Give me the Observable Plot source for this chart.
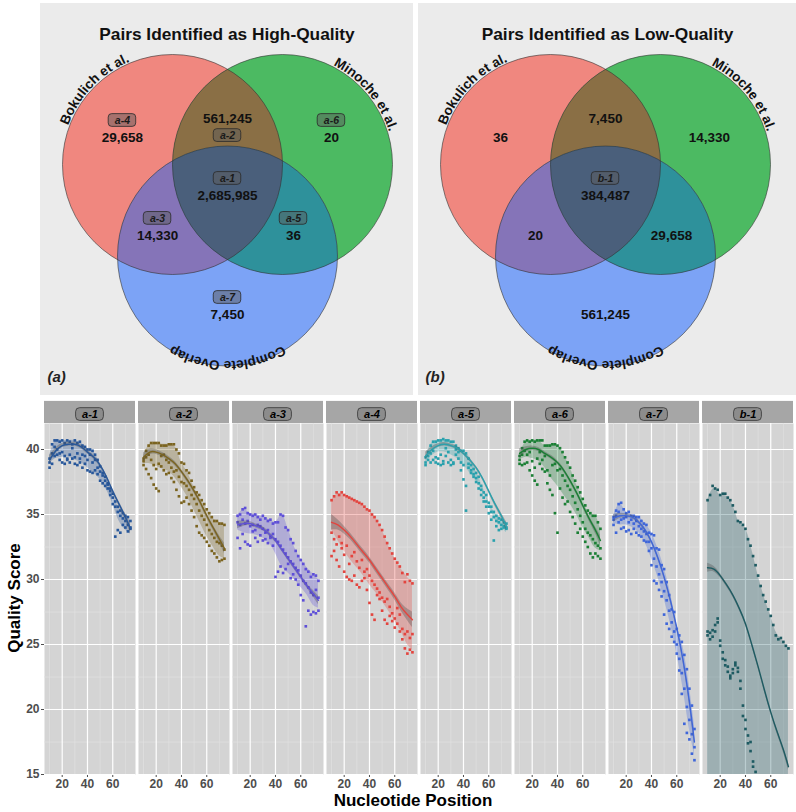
<!DOCTYPE html>
<html><head><meta charset="utf-8">
<script src="https://cdn.jsdelivr.net/npm/d3@7"></script>
<script src="https://cdn.jsdelivr.net/npm/@observablehq/plot@0.6"></script>
<style>
body{margin:0;background:#fff;}
#root{position:relative;width:796px;height:812px;background:#fff;font-family:"Liberation Sans",Arial,sans-serif;overflow:hidden}
.abs{position:absolute}
.axlab{position:absolute;font-weight:bold;font-size:17px;color:#000;white-space:nowrap}
</style></head><body>
<div id="root">
 <div id="vennA" class="abs" style="left:40px;top:3px;width:373px;height:392px"></div>
 <div id="vennB" class="abs" style="left:418px;top:3px;width:378px;height:392px"></div>
 <div id="facets" class="abs" style="left:0;top:400px;width:796px;height:412px"></div>
 <div class="axlab" style="left:15px;top:598px;transform:translate(-50%,-50%) rotate(-90deg)">Quality Score</div>
 <div class="axlab" style="left:413px;top:801px;transform:translate(-50%,-50%)">Nucleotide Position</div>
</div>
<script>
// ---------------- Venn data ----------------
const vennSets = ["Bokulich et al.", "Minoche et al.", "Complete Overlap"];
const vennRegions = ["Bokulich only", "Bokulich & Minoche", "Minoche only", "All three", "Bokulich & Overlap", "Minoche & Overlap", "Overlap only"];
const highCounts = [29658, 561245, 20, 2685985, 14330, 36, 7450];
const highTags = ["a-4", "a-2", "a-6", "a-1", "a-3", "a-5", "a-7"];
const lowCounts = [36, 7450, 14330, 384487, 20, 29658, 561245];
const lowTags = ["", "", "", "b-1", "", "", ""];

// Venn geometry (unit circles)
const vennCircles = [{cx: -0.5, cy: 0}, {cx: 0.5, cy: 0}, {cx: 0, cy: -0.832}];
const regionAnchors = [[-0.955, 0.245], [0, 0.418], [0.945, 0.245], [0, -0.282], [-0.636, -0.645], [0.6, -0.645], [0, -1.364]];
const tagAbove = [true, false, true, true, true, true, true];
const setLabelAngles = [224, 320, 90];
const setLabelOffsets = [1.5, 1.5, -5];
const onlyColors = ["#f0877f", "#4cba62", "#7ca3f6"];
const overlapColors = {rg: "#8a6f45", rb: "#8574b8", gb: "#2e919b", rgb: "#4a5f7b"};

// ---------------- Quality data ----------------
const panels = ["a-1", "a-2", "a-3", "a-4", "a-5", "a-6", "a-7", "b-1"];
const panelColors = ["#27579b", "#7b6420", "#5e4fd8", "#e3453f", "#2aa1ad", "#1b7f35", "#3f66d9", "#1e5b62"];
const positions = [10,12,14,16,18,20,22,24,26,28,30,32,34,36,38,40,42,44,46,48,50,52,54,56,58,60,62,64,66,68,70,72,74];
const fitPositions = [10,15,20,25,30,35,40,45,50,55,60,65,70,74];

const hiScores = {
  "a-1": [39.3,40.4,40.7,40.7,40.6,40.7,40.5,40.7,40.6,40.4,40.7,40.5,40.6,40.3,40.2,40.0,40.0,39.9,39.6,39.2,38.7,38.2,37.9,37.4,37.0,36.6,36.0,35.6,35.3,35.1,34.9,34.8,34.5],
  "a-2": [39.3,39.9,40.3,40.5,40.5,40.5,40.5,40.3,40.3,40.3,40.4,40.4,40.4,40.0,39.7,39.0,38.9,38.4,38.2,37.6,37.1,36.7,36.5,36.1,35.8,35.4,35.1,34.8,34.5,34.5,34.3,34.3,34.2],
  "a-3": [34.9,35.0,35.4,35.5,35.1,35.0,34.9,35.0,34.8,34.6,34.9,34.7,34.5,34.6,34.3,34.4,34.4,35.0,34.9,34.0,33.8,33.1,32.8,32.2,31.8,31.5,31.2,30.8,30.6,30.2,30.4,30.3,29.9],
  "a-4": [36.1,36.4,36.7,36.5,36.7,36.5,36.4,36.3,36.2,36.1,36.0,35.9,35.8,35.6,35.4,35.3,35.0,34.8,34.5,34.2,33.8,33.3,32.8,32.4,32.0,31.6,31.3,31.0,30.5,29.8,30.4,29.9,29.7],
  "a-5": [39.4,39.8,40.3,40.6,40.6,40.7,40.7,40.8,40.7,40.7,40.6,40.6,40.3,40.1,39.9,39.9,39.7,39.3,38.8,38.5,38.2,37.9,37.2,36.7,36.5,35.9,35.6,35.2,34.9,34.7,34.6,34.4,34.3],
  "a-6": [39.5,40.1,40.6,40.7,40.6,40.7,40.6,40.7,40.7,40.7,40.3,40.3,40.3,40.4,40.4,40.3,40.1,39.8,39.4,39.0,38.6,38.0,37.6,37.1,36.7,36.2,35.7,35.3,35.1,34.9,34.9,34.4,33.9],
  "a-7": [34.8,35.3,35.8,35.9,35.4,35.1,35.2,34.9,34.9,34.8,34.8,34.5,34.3,34.2,33.6,33.5,33.4,32.4,32.3,31.1,30.8,29.8,28.8,27.7,27.5,26.2,25.7,25.2,24.2,23.1,21.6,20.3,18.5],
  "b-1": [36.1,36.5,37.2,37.0,36.9,36.5,36.6,36.6,36.3,36.1,35.7,35.2,34.5,34.4,34.2,33.9,33.1,32.6,31.8,31.1,30.3,29.5,28.8,28.3,27.7,27.2,26.5,25.7,25.4,25.5,25.2,24.9,24.7]
};
const midScores = {
  "a-1": [39.0,39.7,40.2,40.0,39.7,39.8,39.5,39.2,39.6,40.1,39.4,39.7,39.3,39.6,39.5,39.2,39.6,39.0,39.2,38.6,38.3,38.0,37.6,37.3,36.8,36.3,35.6,35.2,34.9,34.7,34.5,34.2,34.0],
  "a-2": [39.1,39.4,39.6,39.2,38.8,38.5,38.9,39.5,39.6,39.2,39.0,38.6,38.3,38.4,37.9,37.5,37.4,37.2,36.9,36.5,36.2,35.8,35.3,34.9,34.6,34.2,33.8,33.5,33.2,32.9,32.8,32.6,32.3],
  "a-3": [34.4,34.2,34.6,34.3,34.5,34.1,34.2,33.8,34.2,34.1,33.9,33.6,33.8,33.3,33.5,33.1,32.9,32.6,32.3,32.0,31.7,31.4,31.2,30.9,30.7,30.3,29.9,29.7,29.4,29.0,28.8,29.2,28.6],
  "a-4": [33.6,33.1,32.7,33.3,32.4,31.9,32.6,31.2,31.8,32.1,31.4,30.9,31.5,30.6,30.8,30.3,29.9,29.6,29.3,29.0,28.6,28.3,28.5,27.9,27.4,27.0,26.6,27.3,26.2,25.8,26.0,25.5,25.8],
  "a-5": [39.0,39.5,39.7,39.9,39.4,39.3,39.6,39.1,40.1,39.8,39.2,39.0,40.0,39.8,39.0,38.8,37.2,38.9,38.4,38.1,37.8,37.4,36.9,36.3,36.0,35.6,35.2,34.8,34.5,34.4,34.2,34.1,34.0],
  "a-6": [39.2,39.6,39.9,39.6,39.8,39.1,38.6,39.3,39.8,39.2,39.5,38.4,38.0,38.8,38.9,38.4,38.5,38.0,37.6,37.2,36.9,36.4,35.9,35.4,34.9,34.4,33.9,33.6,33.4,33.1,32.8,32.6,32.4],
  "a-7": [34.6,34.9,35.2,34.6,34.7,34.8,34.4,34.6,34.3,34.5,34.1,33.9,33.7,33.5,32.9,32.4,31.6,31.0,30.4,29.8,29.1,28.4,27.6,26.7,26.0,25.0,23.9,22.8,21.6,20.2,19.2,18.1,17.1],
  "b-1": [26.0,25.9,25.6,26.0,27.0,25.3,24.4,23.8,23.3,22.6,22.8,23.6,23.2,22.2,20.3,19.2,17.4,16.8,15.6,null,null,null,null,null,null,null,null,null,null,null,null,null,null]
};
const loScores = {
  "a-1": [38.6,38.9,39.5,39.6,39.2,39.0,38.9,39.3,39.0,39.3,38.9,38.8,39.0,38.6,38.9,38.4,38.3,38.2,38.4,38.1,37.6,37.4,37.2,37.0,36.5,35.8,33.3,33.8,33.6,34.2,34.0,33.7,33.9],
  "a-2": [38.8,38.5,38.1,37.8,37.3,37.0,36.8,38.7,38.4,38.1,38.2,37.8,37.5,36.9,36.4,35.9,36.0,36.3,35.8,35.3,34.8,34.1,33.6,33.4,33.2,32.9,32.6,32.2,32.0,31.7,31.4,31.5,31.6],
  "a-3": [33.2,32.4,33.5,32.9,32.7,32.6,33.7,33.2,32.9,33.4,33.0,33.1,32.8,33.2,32.6,30.2,30.6,31.0,30.5,30.8,31.2,30.1,30.4,30.0,29.6,28.8,28.4,26.4,27.6,27.3,27.5,27.4,27.6],
  "a-4": [31.8,32.2,31.5,31.0,32.8,30.6,30.2,30.0,29.9,30.3,29.6,29.4,29.9,30.1,29.2,28.2,27.3,26.9,28.8,28.5,27.6,26.9,26.6,27.2,26.8,26.3,27.8,26.0,25.4,24.7,24.3,24.6,24.4],
  "a-5": [38.8,39.2,39.0,39.2,39.0,38.9,38.8,38.9,39.5,39.0,38.8,38.9,39.6,39.3,38.4,37.7,35.3,38.6,38.2,37.9,37.5,37.0,36.5,36.0,35.6,35.1,34.6,33.0,34.1,33.8,33.9,34.0,33.9],
  "a-6": [38.9,38.8,38.9,39.0,38.4,38.0,37.6,37.3,38.9,38.5,38.3,37.4,36.9,36.5,35.1,33.6,37.0,36.3,35.8,36.0,35.2,34.8,34.3,33.6,33.9,33.3,32.9,32.5,32.0,31.7,32.0,31.8,31.6],
  "a-7": [34.2,33.6,34.4,33.9,34.0,33.7,33.8,33.5,33.9,33.6,33.4,33.3,33.0,32.9,32.2,31.1,29.9,29.7,29.2,28.7,27.3,26.6,26.2,25.6,25.2,24.3,23.0,21.2,18.9,18.2,17.7,16.6,16.1],
  "b-1": [25.7,25.4,26.1,26.5,26.7,24.9,23.9,23.4,22.9,22.4,23.1,23.4,22.9,21.6,19.5,18.5,18.0,17.5,16.0,15.2,null,null,null,null,null,null,null,null,null,null,null,null,null]
};
const fitScores = {
  "a-1": [39.2,39.9,40.3,40.4,40.4,40.2,39.8,39.4,38.8,37.9,36.8,35.8,34.8,33.9],
  "a-2": [39.4,39.8,39.8,39.6,39.3,38.9,38.3,37.6,36.8,35.9,34.9,34.0,33.1,32.4],
  "a-3": [34.2,34.3,34.3,34.1,33.9,33.5,33.0,32.3,31.6,30.9,30.2,29.5,28.9,28.4],
  "a-4": [34.4,34.2,33.8,33.3,32.7,32.1,31.5,30.8,30.1,29.4,28.7,27.9,27.3,26.9],
  "a-5": [39.5,40.0,40.3,40.4,40.3,40.1,39.7,39.2,38.6,37.8,36.8,35.8,34.9,34.1],
  "a-6": [39.7,40.0,40.1,40.0,39.7,39.4,39.0,38.4,37.6,36.7,35.7,34.7,33.8,33.0],
  "a-7": [34.7,34.9,34.9,34.8,34.4,33.8,32.9,31.7,30.2,28.4,26.3,23.8,20.6,17.5],
  "b-1": [30.9,30.8,30.3,29.6,28.8,27.8,26.6,25.0,23.3,21.5,19.8,18.3,16.9,15.6]
};
const smoothSE = {
  "a-1": [0.35,0.22,0.17,0.15,0.15,0.15,0.15,0.15,0.15,0.15,0.17,0.2,0.25,0.4],
  "a-2": [0.35,0.22,0.18,0.17,0.17,0.17,0.17,0.17,0.17,0.17,0.18,0.2,0.28,0.4],
  "a-3": [0.3,0.2,0.16,0.15,0.15,0.15,0.15,0.15,0.15,0.15,0.16,0.18,0.25,0.35],
  "a-4": [0.6,0.4,0.3,0.25,0.24,0.24,0.24,0.24,0.24,0.25,0.28,0.32,0.45,0.6],
  "a-5": [0.3,0.2,0.15,0.13,0.13,0.13,0.13,0.13,0.13,0.13,0.15,0.18,0.22,0.35],
  "a-6": [0.35,0.22,0.17,0.15,0.15,0.15,0.15,0.15,0.15,0.15,0.17,0.2,0.26,0.4],
  "a-7": [0.3,0.2,0.15,0.14,0.14,0.14,0.14,0.15,0.16,0.17,0.18,0.2,0.25,0.35],
  "b-1": [0.35,0.22,0.17,0.15,0.14,0.14,0.14,0.14,0.14,0.14,0.15,0.17,0.2,0.3]
};
const bandHigh = {
  "a-1": [39.5,40.7,40.7,40.7,40.7,40.5,40.1,39.8,38.9,37.9,36.7,35.5,35.0,34.5],
  "a-2": [39.5,40.4,40.5,40.4,40.4,40.2,39.0,38.2,37.1,36.2,35.4,34.7,34.4,34.2],
  "a-3": [34.9,35.4,35.1,35.0,34.8,34.6,34.4,35.0,33.9,32.5,31.6,30.9,30.4,30.0],
  "a-4": [36.1,36.6,36.5,36.3,36.0,35.7,35.3,34.7,33.8,32.6,31.6,30.8,30.2,29.7],
  "a-5": [39.4,40.5,40.7,40.7,40.6,40.2,39.9,39.4,38.3,37.2,36.0,35.1,34.7,34.3],
  "a-6": [39.5,40.6,40.7,40.7,40.3,40.4,40.3,39.6,38.6,37.3,36.2,35.1,34.9,33.9],
  "a-7": [34.9,35.8,35.2,34.9,34.8,34.3,33.6,32.4,30.9,29.0,26.5,24.8,21.8,18.8],
  "b-1": [36.1,37.0,36.5,36.4,35.7,34.4,33.9,32.3,30.3,28.6,27.2,25.8,25.2,24.7]
};
const bandLow = {
  "a-1": [38.9,39.3,39.4,39.4,39.2,39.0,38.6,38.2,37.7,36.9,35.8,34.5,33.8,33.5],
  "a-2": [38.9,38.9,38.7,38.5,38.3,37.8,37.1,36.3,35.3,34.3,33.3,32.5,31.8,31.6],
  "a-3": [33.8,33.6,33.5,33.4,33.2,32.8,32.0,31.0,30.5,30.0,29.4,28.8,28.0,27.8],
  "a-4": [33.8,33.0,32.2,31.5,30.9,30.3,29.6,29.0,28.3,27.6,26.8,26.0,25.0,24.6],
  "a-5": [39.0,39.5,39.8,39.8,39.6,39.3,38.8,38.2,37.6,36.8,35.8,34.6,34.0,33.6],
  "a-6": [39.2,39.4,39.3,39.1,38.6,37.8,37.2,36.5,35.8,35.0,34.0,33.2,32.4,32.2],
  "a-7": [34.3,34.2,34.2,34.0,33.6,32.8,31.6,30.2,28.5,26.6,24.3,21.6,18.5,16.5],
  "b-1": [15,15,15,15,15,15,15,15,15,15,15,15,15,15]
};

// ---------------- Venn diagrams ----------------
const measureCtx = document.createElement("canvas").getContext("2d");
const setFontSize = 13.5;
measureCtx.font = `bold ${setFontSize}px "Liberation Sans", Arial, sans-serif`;

function arcChars(i, c, k) {
  const text = [...vennSets[i]];
  const Rb = k + setLabelOffsets[i];
  const Rc = Rb + 0.32 * setFontSize;
  const widths = text.map(ch => measureCtx.measureText(ch).width);
  const total = widths.reduce((a, b) => a + b, 0);
  let acc = -total / 2;
  return text.map((ch, j) => {
    const mid = acc + widths[j] / 2; acc += widths[j];
    const th = setLabelAngles[i] * Math.PI / 180 + mid / Rb;
    return {ch, x: c.cx + Rc * Math.cos(th) / k, y: c.cy - Rc * Math.sin(th) / k, rotate: th * 180 / Math.PI + 90};
  });
}

function drawVenn(el, id, title, tag, counts, tags, widthPx) {
  const heightPx = 392, k = 110, ox = 187, oy = 161;
  const circles = vennCircles.map((c, i) => ({...c, set: vennSets[i], color: onlyColors[i]}));
  const rows = vennRegions.map((r, i) => ({
    region: r, count: counts[i], tag: tags[i],
    nx: regionAnchors[i][0], ny: regionAnchors[i][1],
    bx: regionAnchors[i][0], by: regionAnchors[i][1] + (tagAbove[i] ? 0.155 : -0.155)
  }));
  const tagged = rows.filter(d => d.tag);
  const G = circles[1], B = circles[2];
  const chars = circles.flatMap((c, i) => arcChars(i, c, k));
  const fmt = d3.format(",");
  const svg = Plot.plot({
    width: widthPx, height: heightPx, margin: 0,
    x: {domain: [-ox / k, (widthPx - ox) / k], axis: null},
    y: {domain: [-(heightPx - oy) / k, oy / k], axis: null},
    color: {type: "identity"},
    style: {background: "#ebebeb", fontFamily: "Liberation Sans, Arial, sans-serif", color: "#000"},
    marks: [
      Plot.dot(circles, {x: "cx", y: "cy", r: k, fill: "color"}),
      Plot.dot([G], {x: "cx", y: "cy", r: k, fill: overlapColors.rg}),
      Plot.dot([B], {x: "cx", y: "cy", r: k, fill: overlapColors.rb}),
      Plot.dot([B], {x: "cx", y: "cy", r: k, fill: overlapColors.gb}),
      Plot.dot([B], {x: "cx", y: "cy", r: k, fill: overlapColors.rgb}),
      Plot.dot(circles, {x: "cx", y: "cy", r: k, fill: "none", stroke: "#333", strokeWidth: 0.6}),
      Plot.rect(tagged, {x1: d => d.bx - 0.125, x2: d => d.bx + 0.125, y1: d => d.by - 0.058, y2: d => d.by + 0.058,
        rx: 3.5, fill: "#5c5c5c", fillOpacity: 0.5, stroke: "#2a2a2a", strokeWidth: 0.8}),
      Plot.text(tagged, {x: "bx", y: "by", text: "tag", fontStyle: "italic", fontWeight: "bold", fontSize: 10.5, fill: "#1a1a1a"}),
      Plot.text(rows, {x: "nx", y: "ny", text: d => fmt(d.count), fontWeight: "bold", fontSize: 13.5, fill: "#111"}),
      Plot.text(chars, {x: "x", y: "y", text: "ch", rotate: "rotate", fontWeight: "bold", fontSize: setFontSize, fill: "#111"}),
      Plot.text([title], {frameAnchor: "top", dy: 24, text: d => d, fontWeight: "bold", fontSize: 17.3, fill: "#111"}),
      Plot.text([tag], {frameAnchor: "bottom-left", dx: 7, dy: -14, text: d => d, textAnchor: "start", fontStyle: "italic", fontWeight: "bold", fontSize: 15, fill: "#222"})
    ]
  });
  // clip the overlap layers to their intersections
  const s = d3.select(svg);
  const dotGroups = s.selectAll('g[aria-label="dot"]').nodes().map(n => d3.select(n));
  const [gBase, gRG, gRB, gGB, gRGB, gOut] = dotGroups;
  const outl = gOut.selectAll("circle").nodes().map(n => ({x: +n.getAttribute("cx"), y: +n.getAttribute("cy"), r: +n.getAttribute("r")}));
  const defs = s.insert("defs", ":first-child");
  const mk = (cid, c) => defs.append("clipPath").attr("id", cid).append("circle").attr("cx", c.x).attr("cy", c.y).attr("r", c.r);
  mk(id + "-R", outl[0]); mk(id + "-G", outl[1]);
  gRG.selectAll("circle").attr("clip-path", `url(#${id}-R)`);
  gRB.selectAll("circle").attr("clip-path", `url(#${id}-R)`);
  gGB.selectAll("circle").attr("clip-path", `url(#${id}-G)`);
  gRGB.attr("clip-path", `url(#${id}-R)`).selectAll("circle").attr("clip-path", `url(#${id}-G)`);
  el.appendChild(svg);
}
drawVenn(document.getElementById("vennA"), "va", "Pairs Identified as High-Quality", "(a)", highCounts, highTags, 373);
drawVenn(document.getElementById("vennB"), "vb", "Pairs Identified as Low-Quality", "(b)", lowCounts, lowTags, 378);

// ---------------- Faceted quality profiles ----------------
const pointRows = panels.flatMap((p, pi) => [hiScores, midScores, loScores].flatMap(s =>
  positions.map((x, j) => ({panel: p, pos: x, score: s[p][j], color: panelColors[pi]}))))
  .filter(d => d.score != null);
const fitRows = panels.flatMap((p, pi) => fitPositions.map((x, j) => ({panel: p, pos: x, fit: fitScores[p][j], se: smoothSE[p][j], color: panelColors[pi]})));
const bandRows = panels.flatMap((p, pi) => fitPositions.map((x, j) => ({panel: p, pos: x, lo: bandLow[p][j], hi: bandHigh[p][j], color: panelColors[pi]})));

const facets = Plot.plot({
  width: 796, height: 412, marginTop: 23, marginBottom: 38, marginLeft: 40, marginRight: 0,
  fx: {domain: panels, axis: null, paddingInner: 0.037, paddingOuter: 0},
  x: {domain: [6, 78], ticks: 3, tickSize: 3, tickPadding: 2, label: null},
  y: {domain: [15, 42], ticks: 6, tickSize: 3, tickPadding: 2, label: null},
  color: {type: "identity"},
  style: {background: "transparent", fontFamily: "Liberation Sans, Arial, sans-serif", fontSize: "12px", fontWeight: "bold", color: "#4d4d4d"},
  marks: [
    Plot.frame({fill: "#d4d4d4", stroke: "none"}),
    Plot.ruleX([10, 30, 50, 70], {stroke: "#e1e1e1", strokeWidth: 0.7}),
    Plot.ruleY([17.5, 22.5, 27.5, 32.5, 37.5], {stroke: "#e1e1e1", strokeWidth: 0.7}),
    Plot.ruleX([20, 40, 60], {stroke: "#fff", strokeWidth: 1.2}),
    Plot.ruleY([15, 20, 25, 30, 35, 40], {stroke: "#fff", strokeWidth: 1.2}),
    Plot.areaY(bandRows, {fx: "panel", x: "pos", y1: "lo", y2: "hi", fill: "color", fillOpacity: 0.3, curve: "catmull-rom", clip: true}),
    Plot.dot(pointRows, {fx: "panel", x: "pos", y: "score", fill: "color", symbol: "square", r: 1.5, clip: true}),
    Plot.areaY(fitRows, {fx: "panel", x: "pos", y1: d => d.fit - d.se, y2: d => d.fit + d.se, fill: "#4d4d4d", fillOpacity: 0.35, curve: "natural", clip: true}),
    Plot.lineY(fitRows, {fx: "panel", x: "pos", y: "fit", stroke: "color", strokeWidth: 1.4, curve: "natural", clip: true}),
    Plot.rect(panels, {fx: d => d, x1: 6, x2: 78, y1: 42, y2: 43.7, fill: "#a6a6a6"}),
    Plot.rect(panels, {fx: d => d, x1: 31, x2: 53, y1: 42.2, y2: 43.18, fill: "#8c8c8c", stroke: "#333", strokeWidth: 0.8, rx: 4}),
    Plot.text(panels, {fx: d => d, x: 42, y: 42.69, text: d => d, fill: "#000", fontStyle: "italic", fontWeight: "bold", fontSize: 11})
  ]
});
document.getElementById("facets").appendChild(facets);
</script>
</body></html>
